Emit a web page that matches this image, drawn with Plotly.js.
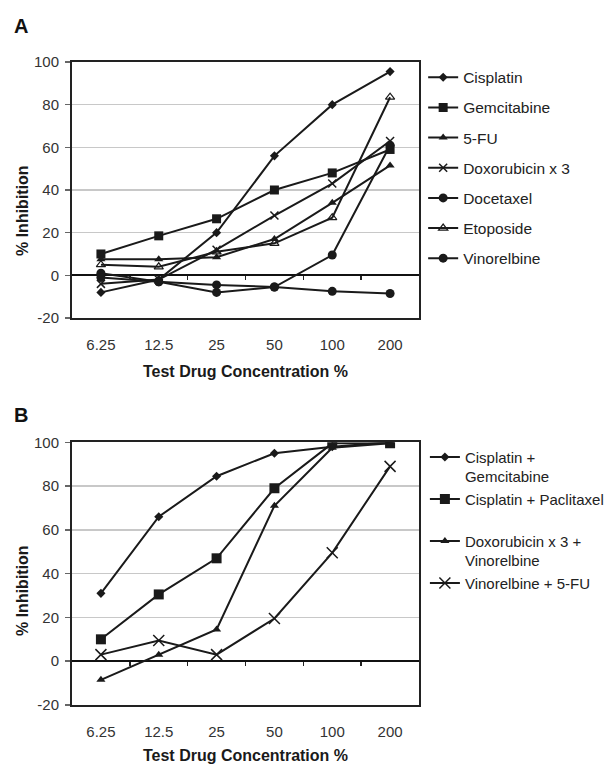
<!DOCTYPE html>
<html>
<head>
<meta charset="utf-8">
<script src="https://cdn.plot.ly/plotly-3.0.1.min.js"></script>
<style>html,body{margin:0;padding:0;background:#fff;}#chart{width:615px;height:764px;}</style>
</head>
<body>
<div id="chart"></div>
<script>
// ---- data ----
const concentrations = ['6.25', '12.5', '25', '50', '100', '200'];

// Panel A: single agents (% inhibition)
const seriesA_names = ['Cisplatin', 'Gemcitabine', '5-FU', 'Doxorubicin x 3', 'Docetaxel', 'Etoposide', 'Vinorelbine'];
const cisplatin   = [-8, -2, 20, 56, 80, 95.5];
const gemcitabine = [10, 18.5, 26.5, 40, 48, 59];
const fluorouracil = [7.5, 7.5, 8.5, 17, 34, 51.5];
const doxorubicin = [-4, -2, 12, 28, 43, 63];
const docetaxel   = [1, -3, -8, -5.5, 9.5, 61];
const etoposide   = [5, 4, 11, 15, 27, 83.5];
const vinorelbine = [-1, -3, -4.5, -5.5, -7.5, -8.5];

// Panel B: combinations (% inhibition)
const seriesB_names = ['Cisplatin +<br>Gemcitabine', 'Cisplatin + Paclitaxel<br>\u00a0', 'Doxorubicin x 3 +<br>Vinorelbine', 'Vinorelbine + 5-FU'];
const cisGem = [31, 66, 84.5, 95, 98, 100];
const cisPac = [10, 30.5, 47, 79, 99.5, 99.5];
const doxVin = [-8.5, 3, 14.5, 71, 97.5, 99.5];
const vinFu  = [3, 9.5, 3, 19.5, 49.5, 89];

const yTickVals = [-20, 0, 20, 40, 60, 80, 100];
const yTickText = ['-20', '0', '20', '40', '60', '80', '100'];

// ---- styles ----
const FONT = 'Liberation Sans, Arial, sans-serif';
const INK = '#1a1a1a';
const markerA = [
  {symbol: 'diamond', size: 7},
  {symbol: 'square', size: 9},
  {symbol: 'triangle-up', size: 8},
  {symbol: 'x-thin-open', size: 8, line: {width: 1.5, color: '#333'}},
  {symbol: 'circle', size: 9},
  {symbol: 'triangle-up-open', size: 8, line: {width: 1.2, color: '#555'}},
  {symbol: 'circle', size: 9}
];
const markerB = [
  {symbol: 'diamond', size: 7},
  {symbol: 'square', size: 10},
  {symbol: 'triangle-up', size: 8},
  {symbol: 'x-thin-open', size: 11, line: {width: 1.5, color: '#444'}}
];
const dataA = [cisplatin, gemcitabine, fluorouracil, doxorubicin, docetaxel, etoposide, vinorelbine];
const dataB = [cisGem, cisPac, doxVin, vinFu];

const traces = [];
dataA.forEach((vals, i) => {
  traces.push({
    type: 'scatter', mode: 'lines+markers', name: seriesA_names[i],
    x: concentrations, y: vals, xaxis: 'x', yaxis: 'y',
    line: {color: INK, width: 2},
    marker: Object.assign({color: INK}, markerA[i]),
    legend: 'legend', legendgroup: 'a' + i
  });
});
dataB.forEach((vals, i) => {
  traces.push({
    type: 'scatter', mode: 'lines+markers', name: seriesB_names[i],
    x: concentrations, y: vals, xaxis: 'x2', yaxis: 'y2',
    line: {color: INK, width: 2},
    marker: Object.assign({color: INK}, markerB[i]),
    legend: 'legend2', legendgroup: 'b' + i
  });
});
// helper traces so the zero-line tick axes are drawn
traces.push({type: 'scatter', x: [], y: [], xaxis: 'x3', yaxis: 'y', showlegend: false, hoverinfo: 'skip'});
traces.push({type: 'scatter', x: [], y: [], xaxis: 'x4', yaxis: 'y2', showlegend: false, hoverinfo: 'skip'});

const domA = [0.6019, 1.0];
const domB = [0.0, 0.4086];
const yMin = -20, yMax = 100;
const zeroPos = d => d[0] + (0 - yMin) / (yMax - yMin) * (d[1] - d[0]);

function xCat(anchor) {
  return {
    type: 'category', categoryorder: 'array', categoryarray: concentrations,
    range: [-0.5, concentrations.length - 0.5], anchor: anchor,
    showline: true, linecolor: '#222', linewidth: 2, mirror: true,
    ticks: '', showgrid: false, zeroline: false,
    ticklabelstandoff: 12,
    tickfont: {family: FONT, size: 15, color: '#333'},
    title: {text: 'Test Drug Concentration %', font: {family: FONT, size: 16, color: INK, weight: 'bold'}, standoff: 14},
    automargin: false, fixedrange: true
  };
}
function yLin(anchor, dom) {
  return {
    domain: dom, anchor: anchor, range: [yMin, yMax], tickvals: yTickVals, ticktext: yTickText,
    showline: true, linecolor: '#222', linewidth: 2, mirror: true,
    ticks: 'outside', ticklen: 5, tickwidth: 1.5, tickcolor: '#666',
    showgrid: true, gridcolor: '#c8c8c8', gridwidth: 1.5,
    zeroline: true, zerolinecolor: '#111', zerolinewidth: 2,
    ticklabelstandoff: 3,
    tickfont: {family: FONT, size: 15, color: '#333'},
    automargin: false, fixedrange: true
  };
}
function xZeroTicks(over, pos) {
  return {
    overlaying: over, anchor: 'free', position: pos,
    range: [-0.5, concentrations.length - 0.5],
    tickvals: [0.5, 1.5, 2.5, 3.5, 4.5],
    ticks: 'outside', ticklen: 4, tickwidth: 1.5, tickcolor: '#222',
    showticklabels: false, showgrid: false, zeroline: false, showline: false,
    automargin: false, fixedrange: true
  };
}

const legendBase = {
  xanchor: 'left', yanchor: 'top', bgcolor: 'rgba(0,0,0,0)',
  valign: 'top', itemclick: false, itemdoubleclick: false
};

// paper-coordinate helpers (pixel -> paper) for text placement
const ML = 72, MT = 62, PW = 615 - 72 - 196, PH = 764 - 62 - 59;
const px2x = p => (p - ML) / PW;
const px2y = p => (764 - 59 - p) / PH;

const yTitle = (text, py) => ({
  text: '<b>' + text + '</b>', xref: 'paper', yref: 'paper', x: px2x(22), y: px2y(py),
  xanchor: 'center', yanchor: 'middle', textangle: -90, showarrow: false,
  font: {family: FONT, size: 16, color: INK}
});
const panelLabel = (text, px, py) => ({
  text: '<b>' + text + '</b>', xref: 'paper', yref: 'paper', x: px2x(px), y: px2y(py),
  xanchor: 'center', yanchor: 'middle', showarrow: false,
  font: {family: FONT, size: 20, color: '#111'}
});

const layout = {
  width: 615, height: 764,
  margin: {l: ML, r: 196, t: MT, b: 59, autoexpand: false},
  paper_bgcolor: '#fff', plot_bgcolor: '#fff',
  showlegend: true,
  xaxis: xCat('y'),
  yaxis: yLin('x', domA),
  xaxis2: xCat('y2'),
  yaxis2: yLin('x2', domB),
  xaxis3: xZeroTicks('x', zeroPos(domA)),
  xaxis4: xZeroTicks('x2', zeroPos(domB)),
  legend: Object.assign({}, legendBase, {x: 1.012, y: 1.002, tracegroupgap: 7,
    font: {family: FONT, size: 15.5, color: '#222'}}),
  legend2: Object.assign({}, legendBase, {x: 1.017, y: 0.411, tracegroupgap: 0,
    font: {family: FONT, size: 15, color: '#222'}}),
  annotations: [
    panelLabel('A', 21, 26),
    panelLabel('B', 21, 415),
    yTitle('% Inhibition', 211),
    yTitle('% Inhibition', 591)
  ]
};

Plotly.newPlot('chart', traces, layout, {staticPlot: true, displayModeBar: false});
</script>
</body>
</html>
